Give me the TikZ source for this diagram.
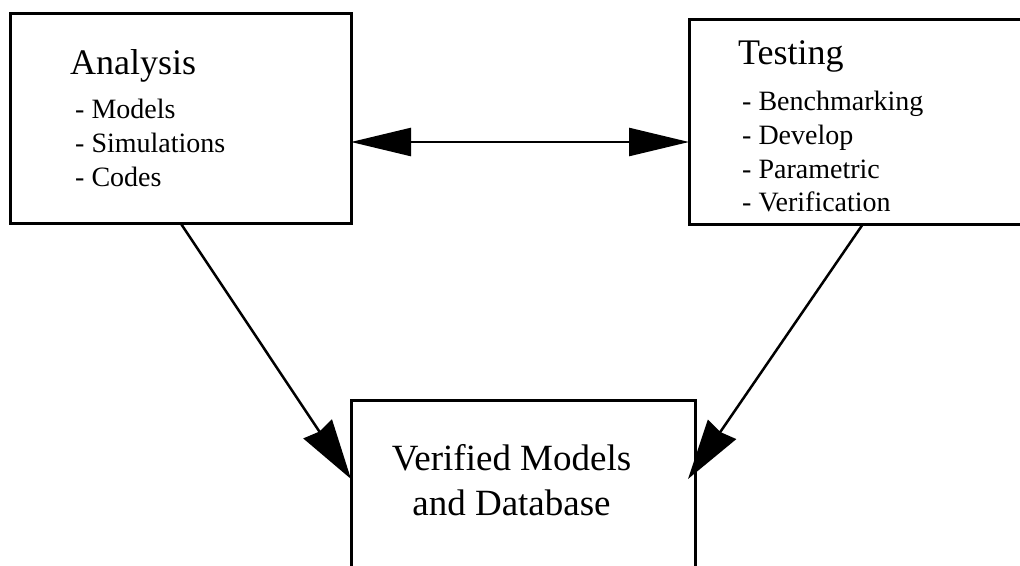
\documentclass[tikz,border=0pt]{standalone}
\usepackage{fontspec}
\setmainfont{Liberation Serif}
\usetikzlibrary{positioning,arrows.meta}

\begin{document}
\begin{tikzpicture}[x=1pt, y=1pt,
          box/.style={draw, line width=3pt, inner sep=0pt, outer sep=0pt, anchor=north west},
          head/.style={font=\fontsize{36}{43}\selectfont, inner sep=0pt, anchor=base west},
          item/.style={font=\fontsize{28}{33.5}\selectfont, inner sep=0pt, text height=22pt, text depth=11.5pt, anchor=north west},
          result/.style={font=\fontsize{37}{45}\selectfont, inner sep=0pt, anchor=base},
          arrow/.style={line width=2.5pt, -{Stealth[length=60pt, width=34pt, inset=3pt]}},
          link/.style={line width=2.5pt, {Triangle[length=60pt, width=28pt]}-{Triangle[length=60pt, width=28pt]}}
        ]
          \useasboundingbox (0,0) rectangle (1020,-565);
          % boxes
          \node[box, minimum width=341pt, minimum height=210pt] (ana) at (10,-13) {};
          \node[box, minimum width=348pt, minimum height=205pt] (tst) at (689,-19) {};
          \node[box, minimum width=344pt, minimum height=200pt] (ver) at (351,-400) {};
          % analysis
          \node[head] (anaT) at ([xshift=60pt, yshift=-61pt]ana.north west) {Analysis};
          \node[item] (mod) at ([xshift=65pt, yshift=-83pt]ana.north west) {- Models};
          \node[item, below=0pt of mod.south west, anchor=north west] (sim) {- Simulations};
          \node[item, below=0pt of sim.south west, anchor=north west] (cod) {- Codes};
          % testing
          \node[head] (tstT) at ([xshift=49pt, yshift=-45pt]tst.north west) {Testing};
          \node[item] (ben) at ([xshift=53pt, yshift=-69pt]tst.north west) {- Benchmarking};
          \node[item, below=0pt of ben.south west, anchor=north west] (dev) {- Develop};
          \node[item, below=0pt of dev.south west, anchor=north west] (par) {- Parametric};
          \node[item, below=0pt of par.south west, anchor=north west] (vrf) {- Verification};
          % result
          \node[result] (res1) at ([xshift=-11.5pt, yshift=-70pt]ver.north) {Verified Models};
          \node[result] (res2) at ([yshift=-45pt]res1.base) {and Database};
          % connectors
          \draw[link] ([yshift=-24pt]ana.east) -- ([yshift=-20.5pt]tst.west);
          \draw[arrow] (ana.south) -- ([yshift=-79pt]ver.north west);
          \draw[arrow] (tst.south) -- ([xshift=-7pt, yshift=-79pt]ver.north east);
        \end{tikzpicture}
\end{document}
